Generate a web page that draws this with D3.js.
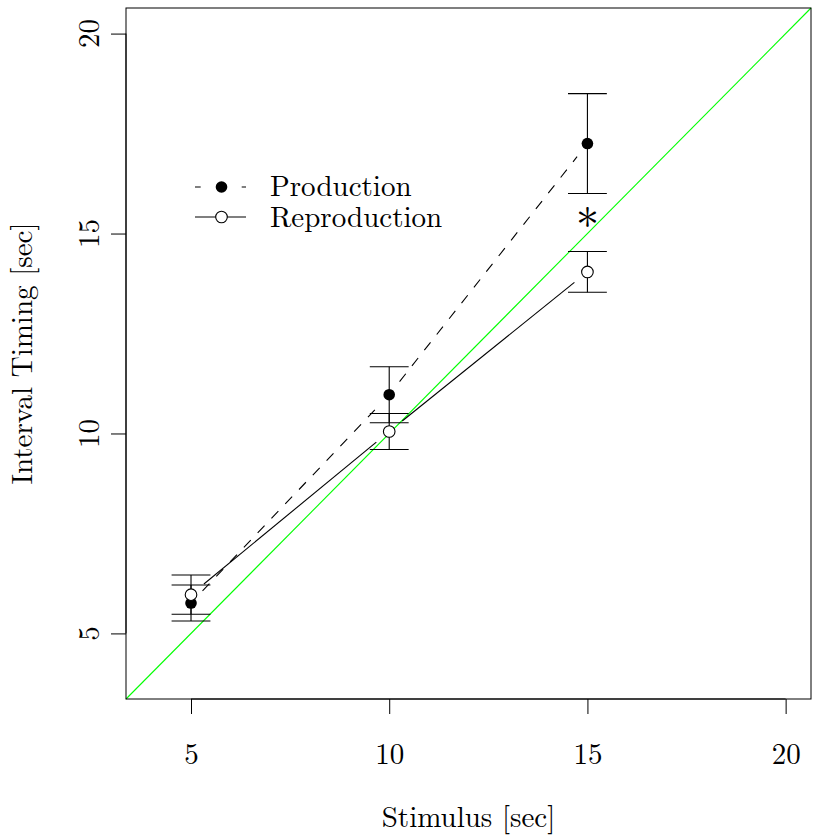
<!DOCTYPE html>
<html>
<head>
<meta charset="utf-8">
<script src="https://d3js.org/d3.v7.min.js"></script>
<style>
  body { margin: 0; background: #fff; }
</style>
</head>
<body>
<script>
    // data
    var stimulus = [5, 10, 15];
    var productionMean = [5.76, 10.97, 17.25];
    var productionErr = [0.45, 0.70, 1.25];
    var reproductionMean = [5.97, 10.05, 14.04];
    var reproductionErr = [0.49, 0.45, 0.51];
    var xTicks = [5, 10, 15, 20];
    var yTicks = [5, 10, 15, 20];
    var starX = [15];
    var starY = [15.43];

    var width = 815;
    var height = 838;
    var padL = 126, padR = 811, padT = 8, padB = 699;
    var serif = "Latin Modern Roman";
    var fs = 29;

    var svg = d3.select("body").append("svg")
        .attr("width", width)
        .attr("height", height)
        .attr("font-family", serif);

    var x = d3.scaleLinear().domain([3.36, 20.64]).range([padL, padR]);
    var y = d3.scaleLinear().domain([3.36, 20.64]).range([padB, padT]);

    // identity line
    svg.append("line")
        .attr("x1", x(3.36)).attr("y1", y(3.36))
        .attr("x2", x(20.64)).attr("y2", y(20.64))
        .style("stroke", "#00ff00")
        .style("stroke-width", 1.1);

    // segments between points, with a gap round each point (like type = "b")
    var gap = 16.7;
    function gapSegments(xs, ys) {
        var segs = [];
        for (var i = 0; i < xs.length - 1; i++) {
            var x1 = x(xs[i]), y1 = y(ys[i]), x2 = x(xs[i + 1]), y2 = y(ys[i + 1]);
            var len = Math.sqrt((x2 - x1) * (x2 - x1) + (y2 - y1) * (y2 - y1));
            var ux = (x2 - x1) / len, uy = (y2 - y1) / len;
            segs.push([x1 + ux * gap, y1 + uy * gap, x2 - ux * gap, y2 - uy * gap]);
        }
        return segs;
    }

    svg.selectAll(".prodline")
        .data(gapSegments(stimulus, productionMean))
        .enter().append("line")
        .attr("class", "prodline")
        .attr("x1", function (d) { return d[0]; })
        .attr("y1", function (d) { return d[1]; })
        .attr("x2", function (d) { return d[2]; })
        .attr("y2", function (d) { return d[3]; })
        .style("stroke", "#000")
        .style("stroke-width", 1.1)
        .style("stroke-dasharray", "10,10");

    svg.selectAll(".reproline")
        .data(gapSegments(stimulus, reproductionMean))
        .enter().append("line")
        .attr("class", "reproline")
        .attr("x1", function (d) { return d[0]; })
        .attr("y1", function (d) { return d[1]; })
        .attr("x2", function (d) { return d[2]; })
        .attr("y2", function (d) { return d[3]; })
        .style("stroke", "#000")
        .style("stroke-width", 1.1);

    // error bars
    var capHalf = 0.49;
    function errorBars(cls, means, errs) {
        var g = svg.selectAll("." + cls)
            .data(stimulus)
            .enter().append("g")
            .attr("class", cls)
            .style("stroke", "#000")
            .style("stroke-width", 1.1);
        g.append("line")
            .attr("x1", function (d) { return x(d); })
            .attr("x2", function (d) { return x(d); })
            .attr("y1", function (d, i) { return y(means[i] - errs[i]); })
            .attr("y2", function (d, i) { return y(means[i] + errs[i]); });
        g.append("line")
            .attr("x1", function (d) { return x(d - capHalf); })
            .attr("x2", function (d) { return x(d + capHalf); })
            .attr("y1", function (d, i) { return y(means[i] + errs[i]); })
            .attr("y2", function (d, i) { return y(means[i] + errs[i]); });
        g.append("line")
            .attr("x1", function (d) { return x(d - capHalf); })
            .attr("x2", function (d) { return x(d + capHalf); })
            .attr("y1", function (d, i) { return y(means[i] - errs[i]); })
            .attr("y2", function (d, i) { return y(means[i] - errs[i]); });
    }
    errorBars("prodbar", productionMean, productionErr);
    errorBars("reprobar", reproductionMean, reproductionErr);

    // points
    svg.selectAll(".prodpt")
        .data(stimulus)
        .enter().append("circle")
        .attr("class", "prodpt")
        .attr("cx", function (d) { return x(d); })
        .attr("cy", function (d, i) { return y(productionMean[i]); })
        .attr("r", 5.8)
        .style("fill", "#000");

    svg.selectAll(".repropt")
        .data(stimulus)
        .enter().append("circle")
        .attr("class", "repropt")
        .attr("cx", function (d) { return x(d); })
        .attr("cy", function (d, i) { return y(reproductionMean[i]); })
        .attr("r", 5.8)
        .style("fill", "#fff")
        .style("stroke", "#000")
        .style("stroke-width", 1.1);

    // significance star
    svg.selectAll(".star")
        .data(starX)
        .enter().append("text")
        .attr("class", "star")
        .attr("x", function (d) { return x(d); })
        .attr("y", function (d, i) { return y(starY[i]) + 26; })
        .attr("text-anchor", "middle")
        .attr("font-family", serif)
        .attr("font-size", 46)
        .text("*");

    // box
    svg.append("rect")
        .attr("x", padL).attr("y", padT)
        .attr("width", padR - padL).attr("height", padB - padT)
        .style("fill", "none")
        .style("stroke", "#000")
        .style("stroke-width", 1);

    // axes
    var xAxis = svg.append("g")
        .attr("transform", "translate(0," + padB + ")")
        .call(d3.axisBottom(x).tickValues(xTicks).tickSize(15).tickPadding(50).tickSizeOuter(0));
    xAxis.select(".domain")
        .attr("d", "M" + x(xTicks[0]) + ",0H" + x(xTicks[xTicks.length - 1]));
    xAxis.attr("font-family", serif).attr("font-size", fs);
    xAxis.selectAll("text")
        .attr("dy", "0");

    var yAxis = svg.append("g")
        .attr("transform", "translate(" + padL + ",0)")
        .call(d3.axisLeft(y).tickValues(yTicks).tickSize(15).tickFormat(function () { return ""; }).tickSizeOuter(0));
    yAxis.select(".domain")
        .attr("d", "M0," + y(yTicks[0]) + "V" + y(yTicks[yTicks.length - 1]));

    svg.selectAll(".ylab")
        .data(yTicks)
        .enter().append("text")
        .attr("class", "ylab")
        .attr("transform", function (d) { return "translate(" + 99 + "," + y(d) + ") rotate(-90)"; })
        .attr("text-anchor", "middle")
        .attr("font-family", serif)
        .attr("font-size", fs)
        .text(function (d) { return d; });

    svg.selectAll(".tick line").style("stroke", "#000");
    svg.selectAll(".domain").style("stroke", "#000");

    // axis titles
    svg.append("text")
        .attr("x", (padL + padR) / 2)
        .attr("y", 827)
        .attr("text-anchor", "middle")
        .attr("font-family", serif)
        .attr("font-size", fs)
        .text("Stimulus [sec]");

    svg.append("text")
        .attr("transform", "translate(32," + ((padT + padB) / 2) + ") rotate(-90)")
        .attr("text-anchor", "middle")
        .attr("font-family", serif)
        .attr("font-size", fs)
        .text("Interval Timing [sec]");

    // legend
    var legend = svg.append("g");
    legend.append("line")
        .attr("x1", 195).attr("x2", 246).attr("y1", 187).attr("y2", 187)
        .style("stroke", "#000").style("stroke-width", 1.1)
        .style("stroke-dasharray", "5.7,41,4.3");
    legend.append("circle")
        .attr("cx", 221.5).attr("cy", 187).attr("r", 5.8)
        .style("fill", "#000");
    legend.append("text")
        .attr("x", 270).attr("y", 196)
        .attr("font-family", serif)
        .attr("font-size", fs)
        .text("Production");

    legend.append("line")
        .attr("x1", 195).attr("x2", 246).attr("y1", 217).attr("y2", 217)
        .style("stroke", "#000").style("stroke-width", 1.1);
    legend.append("circle")
        .attr("cx", 221.5).attr("cy", 217).attr("r", 5.8)
        .style("fill", "#fff").style("stroke", "#000").style("stroke-width", 1.1);
    legend.append("text")
        .attr("x", 270).attr("y", 227)
        .attr("font-family", serif)
        .attr("font-size", fs)
        .text("Reproduction");
</script>
</body>
</html>
